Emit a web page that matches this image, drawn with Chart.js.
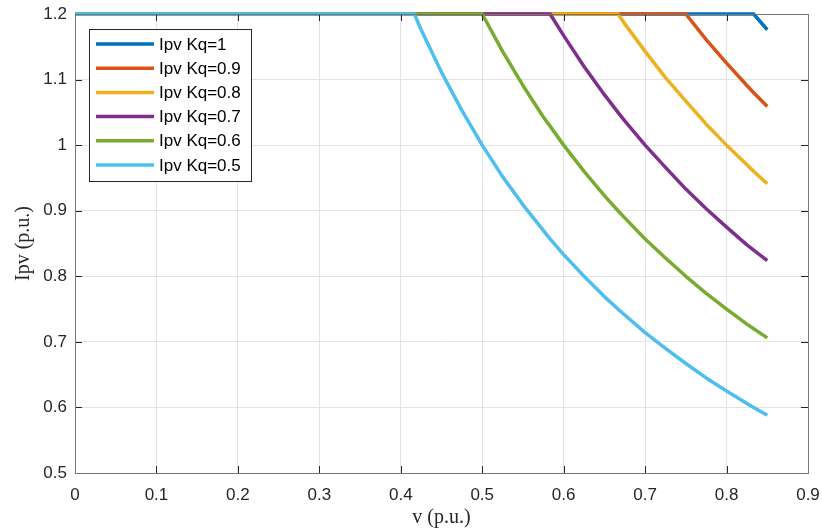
<!DOCTYPE html>
<html>
<head>
<meta charset="utf-8">
<script src="https://cdn.jsdelivr.net/npm/chart.js@4/dist/chart.umd.min.js"></script>
<style>
  html, body { margin: 0; padding: 0; background: #fff; }
  #wrap { width: 822px; height: 530px; }
</style>
</head>
<body>
<div id="wrap"><canvas id="theChart" width="822" height="530"></canvas></div>
<script>
// v (p.u.) sample points
const vPoints = [0, 0.4, 0.4167, 0.425, 0.45, 0.475, 0.5, 0.525, 0.55, 0.575, 0.5833, 0.6, 0.625, 0.65, 0.6667, 0.675, 0.7, 0.725, 0.75, 0.775, 0.8, 0.825, 0.8333, 0.85]

// Ipv, one list per Kq
const ipvKq1  = [1.2, 1.2, 1.2, 1.2, 1.2, 1.2, 1.2, 1.2, 1.2, 1.2, 1.2, 1.2, 1.2, 1.2, 1.2, 1.2, 1.2, 1.2, 1.2, 1.2, 1.2, 1.2, 1.2, 1.176]
const ipvKq09 = [1.2, 1.2, 1.2, 1.2, 1.2, 1.2, 1.2, 1.2, 1.2, 1.2, 1.2, 1.2, 1.2, 1.2, 1.2, 1.2, 1.2, 1.2, 1.2, 1.161, 1.125, 1.091, 1.08, 1.059]
const ipvKq08 = [1.2, 1.2, 1.2, 1.2, 1.2, 1.2, 1.2, 1.2, 1.2, 1.2, 1.2, 1.2, 1.2, 1.2, 1.2, 1.185, 1.143, 1.103, 1.067, 1.032, 1.0, 0.970, 0.96, 0.941]
const ipvKq07 = [1.2, 1.2, 1.2, 1.2, 1.2, 1.2, 1.2, 1.2, 1.2, 1.2, 1.2, 1.167, 1.12, 1.077, 1.05, 1.037, 1.0, 0.966, 0.933, 0.903, 0.875, 0.848, 0.84, 0.824]
const ipvKq06 = [1.2, 1.2, 1.2, 1.2, 1.2, 1.2, 1.2, 1.143, 1.091, 1.043, 1.029, 1.0, 0.96, 0.923, 0.9, 0.889, 0.857, 0.828, 0.8, 0.774, 0.75, 0.727, 0.72, 0.706]
const ipvKq05 = [1.2, 1.2, 1.2, 1.176, 1.111, 1.053, 1.0, 0.952, 0.909, 0.870, 0.857, 0.833, 0.8, 0.769, 0.75, 0.741, 0.714, 0.690, 0.667, 0.645, 0.625, 0.606, 0.6, 0.588]

const seriesNames = ["Ipv Kq=1", "Ipv Kq=0.9", "Ipv Kq=0.8", "Ipv Kq=0.7", "Ipv Kq=0.6", "Ipv Kq=0.5"]
const seriesData = [ipvKq1, ipvKq09, ipvKq08, ipvKq07, ipvKq06, ipvKq05]
const seriesColors = ["#0072BD", "#D95319", "#EDB120", "#7E2F8E", "#77AC30", "#4DBEEE"]

const xTicks = [0, 0.1, 0.2, 0.3, 0.4, 0.5, 0.6, 0.7, 0.8, 0.9]
const yTicks = [0.5, 0.6, 0.7, 0.8, 0.9, 1, 1.1, 1.2]

const tickFont = { family: "Liberation Sans", size: 17 }
const tickColor = "#262626"

// box round the axes + inward ticks, matlab style
const axesBox = {
    id: "axesBox",
    afterDatasetsDraw(chart) {
        const { ctx, chartArea: a, scales } = chart
        ctx.save()
        ctx.strokeStyle = "#262626"
        ctx.lineWidth = 1
        ctx.beginPath()
        xTicks.forEach(t => {
            const px = Math.round(scales.x.getPixelForValue(t)) + 0.5
            ctx.moveTo(px, a.bottom); ctx.lineTo(px, a.bottom - 7)
            ctx.moveTo(px, a.top); ctx.lineTo(px, a.top + 7)
        })
        yTicks.forEach(t => {
            const py = Math.round(scales.y.getPixelForValue(t)) + 0.5
            ctx.moveTo(a.left, py); ctx.lineTo(a.left + 7, py)
            ctx.moveTo(a.right, py); ctx.lineTo(a.right - 7, py)
        })
        ctx.stroke()
        ctx.strokeStyle = "#777"
        ctx.strokeRect(Math.round(a.left) + 0.5, Math.round(a.top) + 0.5, Math.round(a.right - a.left), Math.round(a.bottom - a.top))
        ctx.restore()
    }
}

// legend drawn inside the plot, top left
const boxLegend = {
    id: "boxLegend",
    afterDraw(chart) {
        const { ctx, chartArea: a } = chart
        const x0 = a.left + 14, y0 = a.top + 15, w = 162, h = 152
        ctx.save()
        ctx.fillStyle = "#fff"
        ctx.fillRect(x0, y0, w, h)
        ctx.strokeStyle = "#262626"
        ctx.lineWidth = 1
        ctx.strokeRect(x0 + 0.5, y0 + 0.5, w, h)
        ctx.font = "17px 'Liberation Sans'"
        ctx.textBaseline = "middle"
        seriesNames.forEach((name, i) => {
            const yy = y0 + 15 + i * 24.2
            ctx.strokeStyle = seriesColors[i]
            ctx.lineWidth = 3.5
            ctx.beginPath()
            ctx.moveTo(x0 + 7, yy); ctx.lineTo(x0 + 65, yy)
            ctx.stroke()
            ctx.fillStyle = "#000"
            ctx.fillText(name, x0 + 70, yy + 1)
        })
        ctx.restore()
    }
}

const ctx = document.getElementById("theChart")
new Chart(ctx, {
    type: "scatter",
    data: {
        datasets: seriesNames.map((name, i) => ({
            label: name,
            data: vPoints.map((v, j) => ({ x: v, y: seriesData[i][j] })),
            showLine: true,
            borderColor: seriesColors[i],
            backgroundColor: seriesColors[i],
            borderWidth: 3.5,
            borderJoinStyle: "round",
            pointRadius: 0,
            tension: 0,
            clip: 4,
            order: seriesNames.length - i
        }))
    },
    options: {
        responsive: false,
        animation: false,
        layout: { padding: { top: 14, right: 14, left: 0, bottom: 0 } },
        plugins: {
            legend: { display: false },
            tooltip: { enabled: false }
        },
        scales: {
            x: {
                type: "linear",
                min: 0, max: 0.9,
                afterBuildTicks: s => { s.ticks = xTicks.map(v => ({ value: v })) },
                afterFit: s => { s.height = 57; s.paddingLeft = 0; s.paddingRight = 0 },
                ticks: { font: tickFont, color: tickColor, padding: 12, maxRotation: 0,
                    callback: v => String(v) },
                grid: { color: "#e3e3e3", drawTicks: false },
                border: { display: false },
                title: { display: true, text: "v (p.u.)", color: "#262626",
                    font: { family: "Liberation Serif", size: 20 }, padding: { top: 0, bottom: 0 } }
            },
            y: {
                type: "linear",
                min: 0.5, max: 1.2,
                afterBuildTicks: s => { s.ticks = yTicks.map(v => ({ value: v })) },
                afterFit: s => { s.width = 75; s.paddingTop = 0; s.paddingBottom = 0 },
                ticks: { font: tickFont, color: tickColor, padding: 8,
                    callback: v => String(v) },
                grid: { color: "#e3e3e3", drawTicks: false },
                border: { display: false },
                title: { display: true, text: "Ipv (p.u.)", color: "#262626",
                    font: { family: "Liberation Serif", size: 20 }, padding: { top: 12, bottom: 0 } }
            }
        }
    },
    plugins: [axesBox, boxLegend]
})
</script>
</body>
</html>
